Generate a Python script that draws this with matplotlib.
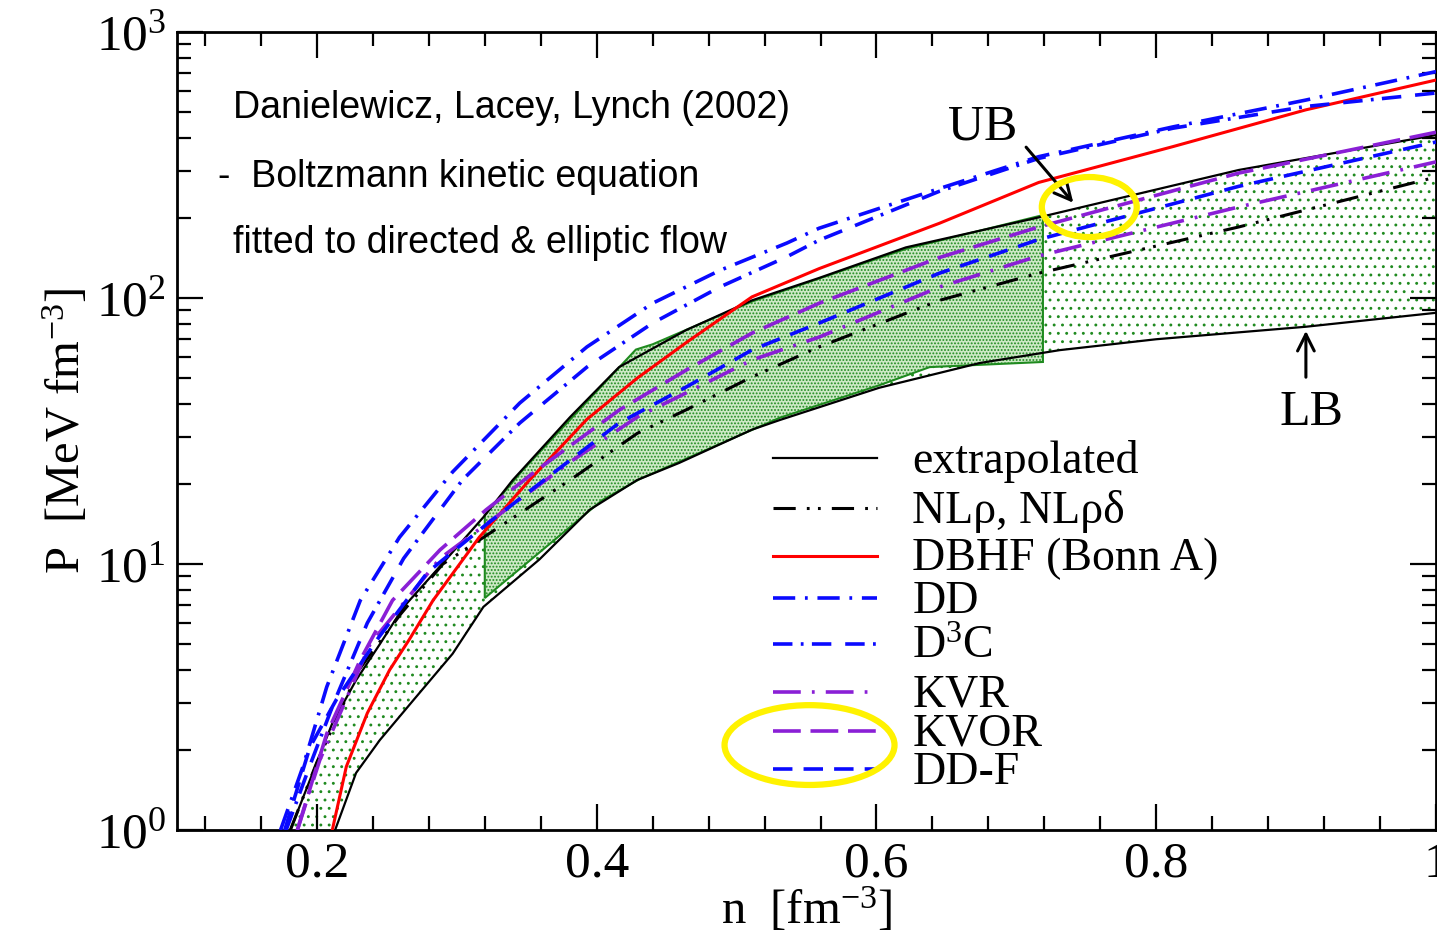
import numpy as np
import matplotlib
matplotlib.use("Agg")
import matplotlib.pyplot as plt
from matplotlib.ticker import MultipleLocator, LogLocator, FuncFormatter
from matplotlib.patches import Ellipse

plt.rcParams['font.family'] = ['Liberation Serif', 'DejaVu Serif']
plt.rcParams['mathtext.fontset'] = 'custom'
plt.rcParams['mathtext.rm'] = 'Liberation Serif'
plt.rcParams['mathtext.it'] = 'Liberation Serif:italic'
plt.rcParams['lines.scale_dashes'] = False
plt.rcParams['hatch.linewidth'] = 0.9

# bounds from flow data (extrapolated)
ub_x = [0.181, 0.197, 0.211, 0.228, 0.245, 0.262, 0.288, 0.319, 0.34, 0.381, 0.416, 0.464, 0.511, 0.559, 0.621, 0.716, 0.859, 1.0]
ub_y = [1.0, 1.64, 2.52, 3.66, 5.0, 6.9, 9.8, 15.0, 20.7, 35.7, 55.0, 75.8, 98.0, 119.0, 155.0, 201.0, 303.0, 410.0]
lb_x = [0.213, 0.228, 0.245, 0.269, 0.297, 0.319, 0.359, 0.395, 0.429, 0.459, 0.511, 0.531, 0.602, 0.674, 0.731, 0.8, 0.907, 1.0]
lb_y = [1.0, 1.64, 2.18, 3.08, 4.6, 6.9, 10.4, 16.0, 20.7, 24.0, 32.0, 34.8, 46.0, 57.0, 63.7, 70.0, 78.0, 88.0]

# flow constraint region (dense)
flow_top_x = [0.32, 0.347, 0.428, 0.44, 0.511, 0.621, 0.719]
flow_top_y = [15.3, 22.5, 64.0, 67.0, 97.0, 153.0, 205.0]
flow_bot_x = [0.32, 0.404, 0.431, 0.531, 0.602, 0.638, 0.719]
flow_bot_y = [7.45, 17.4, 20.9, 35.5, 47.0, 55.0, 57.5]

# model EoS
nlr_x = [0.181, 0.2, 0.23, 0.26, 0.29, 0.324, 0.381, 0.429, 0.464, 0.511, 0.559, 0.645, 0.716, 0.859, 1.0]
nlr_y = [1.0, 1.8, 4.0, 6.5, 10.0, 13.1, 20.7, 31.0, 38.0, 50.5, 65.5, 98.0, 124.0, 185.0, 285.0]
dbhf_x = [0.211, 0.221, 0.236, 0.252, 0.266, 0.283, 0.316, 0.352, 0.393, 0.429, 0.464, 0.511, 0.559, 0.645, 0.716, 0.812, 0.907, 1.0]
dbhf_y = [1.0, 1.73, 2.75, 4.0, 5.2, 7.3, 12.6, 20.7, 35.0, 50.0, 68.0, 101.0, 129.0, 191.0, 272.0, 371.0, 510.0, 660.0]
dd_x = [0.174, 0.19, 0.207, 0.231, 0.259, 0.297, 0.345, 0.393, 0.44, 0.488, 0.536, 0.559, 0.645, 0.716, 0.812, 0.907, 1.0]
dd_y = [1.0, 1.73, 3.45, 7.3, 12.6, 22.2, 40.3, 65.5, 95.6, 127.0, 161.0, 183.0, 258.0, 340.0, 440.0, 555.0, 710.0]
d3c_x = [0.178, 0.195, 0.212, 0.236, 0.262, 0.304, 0.345, 0.393, 0.44, 0.488, 0.536, 0.559, 0.645, 0.716, 0.812, 0.907, 1.0]
d3c_y = [1.0, 1.75, 3.0, 6.0, 10.5, 20.7, 33.9, 55.0, 80.5, 110.0, 143.0, 165.0, 252.0, 335.0, 435.0, 525.0, 590.0]
kvr_x = [0.186, 0.202, 0.238, 0.288, 0.32, 0.383, 0.429, 0.464, 0.511, 0.559, 0.645, 0.716, 0.859, 1.0]
kvr_y = [1.0, 1.83, 5.0, 10.5, 14.0, 24.6, 35.7, 44.0, 58.5, 71.3, 110.0, 144.0, 220.0, 325.0]
kvor_x = [0.186, 0.207, 0.231, 0.254, 0.288, 0.321, 0.357, 0.416, 0.464, 0.511, 0.559, 0.645, 0.716, 0.859, 1.0]
kvor_y = [1.0, 2.3, 4.36, 7.3, 11.3, 16.0, 22.5, 37.9, 53.6, 73.8, 95.6, 142.0, 185.0, 295.0, 420.0]
ddf_x = [0.177, 0.195, 0.214, 0.243, 0.279, 0.319, 0.369, 0.416, 0.464, 0.511, 0.559, 0.645, 0.716, 0.859, 1.0]
ddf_y = [1.0, 2.05, 3.1, 5.2, 9.3, 13.8, 22.0, 33.9, 46.3, 63.8, 80.5, 124.0, 166.0, 263.0, 386.0]

BLUE = '#0a0aff'
PURPLE = '#8a1fd6'
GREEN = '#1f8a1f'

fig = plt.figure(figsize=(14.37, 9.34), dpi=100)
ax = fig.add_axes([0.1232, 0.1113, 0.8761, 0.8544])

# sparse dotted band between UB and LB
ax.fill(np.concatenate([ub_x, lb_x[::-1]]), np.concatenate([ub_y, lb_y[::-1]]),
        facecolor='none', edgecolor=GREEN, hatch='..', linewidth=0, zorder=1)
# dense flow region
ax.fill(np.concatenate([flow_top_x, flow_bot_x[::-1]]), np.concatenate([flow_top_y, flow_bot_y[::-1]]),
        facecolor='#cde9c6', edgecolor=GREEN, hatch='.....', linewidth=1.5, zorder=2)

styles = [
    ("extrapolated", None, None, 'black', '-', 1.6),
    ("NLρ, NLρδ", nlr_x, nlr_y, 'black', (0, (16, 8, 2, 6, 2, 8)), 2.2),
    ("DBHF (Bonn A)", dbhf_x, dbhf_y, '#ff0000', '-', 2.2),
    ("DD", dd_x, dd_y, BLUE, (0, (16, 7, 2, 7)), 2.6),
    ("D$^{3}$C", d3c_x, d3c_y, BLUE, (0, (14, 6, 2, 6, 14, 10)), 2.6),
    ("KVR", kvr_x, kvr_y, PURPLE, (0, (20, 8, 2, 8)), 2.6),
    ("KVOR", kvor_x, kvor_y, PURPLE, (0, (20, 7)), 2.6),
    ("DD-F", ddf_x, ddf_y, BLUE, (0, (14, 8)), 2.6),
]

ax.plot(ub_x, ub_y, color='black', lw=1.6, zorder=4, solid_joinstyle='round')
ax.plot(lb_x, lb_y, color='black', lw=1.6, zorder=4, solid_joinstyle='round')
for label, xs, ys, c, ls, lw in styles[1:]:
    ax.plot(xs, ys, color=c, linestyle=ls, lw=lw, zorder=5, solid_joinstyle='round')

ax.set_yscale('log')
ax.set_xlim(0.1, 1.0)
ax.set_ylim(1, 1000)

ax.xaxis.set_major_locator(MultipleLocator(0.2))
ax.xaxis.set_minor_locator(MultipleLocator(0.04))
ax.xaxis.set_major_formatter(FuncFormatter(lambda v, p: f'{v:g}'))
ax.yaxis.set_major_locator(LogLocator(base=10))
ax.yaxis.set_minor_locator(LogLocator(base=10, subs=np.arange(2, 10)))
ax.tick_params(which='both', direction='in', top=True, right=True, width=1.6, labelsize=37)
ax.tick_params(which='major', length=19, pad=8)
ax.tick_params(which='minor', length=10)
for s in ax.spines.values():
    s.set_linewidth(2)

ax.set_xlabel(r'n  [fm$^{-3}$]', fontsize=35, labelpad=-2)
ax.set_ylabel(r'P  [MeV fm$^{-3}$]', fontsize=35, labelpad=4)

# legend drawn by hand to keep the tight row spacing
leg_y = [0.4662, 0.4035, 0.3434, 0.2907, 0.2331, 0.1729, 0.1241, 0.0764]
for (label, xs, ys, c, ls, lw), yy in zip(styles, leg_y):
    ax.plot([0.473, 0.5556], [yy, yy], transform=ax.transAxes, color=c, linestyle=ls, lw=lw, zorder=6)
    ax.text(0.584, yy - 0.004, label, transform=ax.transAxes, fontsize=33, va='center', ha='left', zorder=6)

sans = ['Liberation Sans', 'DejaVu Sans']
ax.text(0.0444, 0.905, "Danielewicz, Lacey, Lynch (2002)", transform=ax.transAxes,
        fontsize=27, family=sans, va='center')
ax.text(0.0325, 0.818, "-  Boltzmann kinetic equation", transform=ax.transAxes,
        fontsize=27, family=sans, va='center')
ax.text(0.0444, 0.7356, "fitted to directed & elliptic flow", transform=ax.transAxes,
        fontsize=27, family=sans, va='center')

# UB / LB markers
ax.annotate('', xy=(0.742, 224), xytext=(0.7057, 376),
            arrowprops=dict(arrowstyle='->', lw=2.2, color='black', mutation_scale=30), zorder=7)
ax.text(0.676, 440, 'UB', fontsize=36, ha='center', va='center')
ax.annotate('', xy=(0.907, 77.1), xytext=(0.907, 49.2),
            arrowprops=dict(arrowstyle='->', lw=2.2, color='black', mutation_scale=30), zorder=7)
ax.text(0.911, 37.0, 'LB', fontsize=36, ha='center', va='center')

# yellow highlight ellipses
ax.add_patch(Ellipse((0.7246, 0.7807), 0.0754, 0.0752, transform=ax.transAxes,
                     fill=False, edgecolor='#fff200', lw=4.5, zorder=8))
ax.add_patch(Ellipse((0.5024, 0.1065), 0.135, 0.100, transform=ax.transAxes,
                     fill=False, edgecolor='#fff200', lw=4.5, zorder=8))

fig.savefig('out.png', dpi=100)
